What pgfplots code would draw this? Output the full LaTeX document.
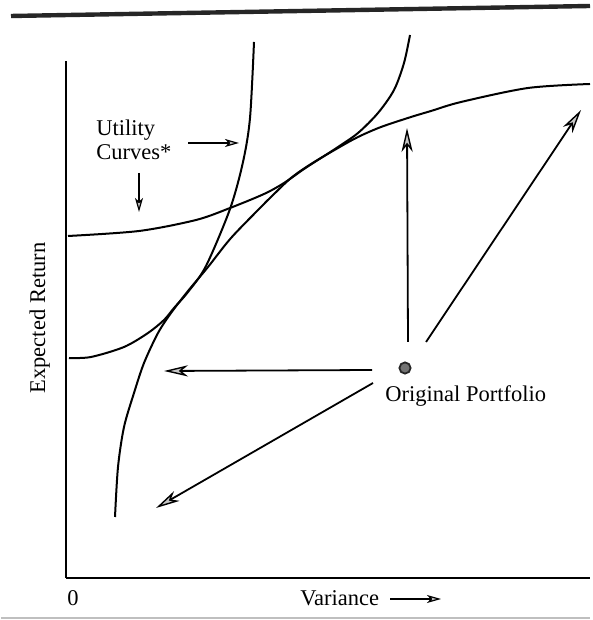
\documentclass[border=0pt]{standalone}
\usepackage{fontspec}
\setmainfont{Liberation Serif}
\usepackage{pgfplots}
\pgfplotsset{compat=1.18}
\usetikzlibrary{arrows.meta}

\begin{document}
\begin{tikzpicture}[font=\fontsize{11.25}{13.5}\selectfont,
  bigarr/.style={line width=0.9pt, -{Stealth[length=12pt,width=5.6pt,inset=3.5pt,fill=gray!45,line width=0.7pt]}},
  smallarr/.style={line width=0.9pt, -{Stealth[length=7pt,width=4pt,inset=1.8pt,fill=gray!45,line width=0.6pt]}}]
\begin{axis}[scale only axis, width=262pt, height=258.5pt,
  xmin=0, xmax=524, ymin=0, ymax=517,
  axis x line=bottom, axis y line=left,
  axis line style={-, line width=1.2pt},
  xtick=\empty, ytick=\empty, clip=false]

% bounding box of the whole page
\addplot[draw=none] coordinates {(-65,-42) (524,578)};

% scan rules at top and bottom
\addplot[line width=2.2pt, color=black!85] coordinates {(-55,562) (524,572)};
\addplot[line width=1pt, color=black!25] coordinates {(-65,-40) (524,-40)};

% efficient frontier (concave)
\addplot[line width=1pt, smooth, tension=0.5] coordinates {
(49,61) (52,111) (58,151) (68,185) (78,215) (92,245) (105,265) (122,287)
(142,311) (165,340) (195,371) (205,381) (225,400) (245,414) (272,430)
(292,441) (315,451) (345,461) (365,467) (395,476) (462,490) (524,494)};

% utility curve 1 (steep)
\addplot[line width=1pt, smooth, tension=0.5] coordinates {
(3,220) (25,221) (58,231) (82,245) (98,258) (108,270) (122,286) (140,312)
(164,369) (177,416) (184,460) (188,536)};

% utility curve 2
\addplot[line width=1pt, smooth, tension=0.5] coordinates {
(2,342) (73,347) (130,358) (164,370) (198,384) (218,395) (238,409) (255,420)
(272,431) (292,445) (312,465) (328,488) (338,515) (344,543)};

% annotation arrows
\addplot[smallarr] coordinates {(122,435) (173,435)};
\addplot[smallarr] coordinates {(73,405) (73,366)};
\addplot[bigarr] coordinates {(306,208) (98,207)};
\addplot[bigarr] coordinates {(307,195) (90,70)};
\addplot[bigarr] coordinates {(342,236) (341,450)};
\addplot[bigarr] coordinates {(360,236) (515,468)};
\addplot[smallarr] coordinates {(324,-21) (375,-21)};

% original portfolio
\addplot[only marks, mark=*, mark size=2.8pt, mark options={fill=black!55, draw=black!85, line width=0.9pt}] coordinates {(339,210)};

% texts
\node[anchor=base west, inner sep=0pt] at (30,442) {Utility};
\node[anchor=base west, inner sep=0pt] at (30,418) {Curves*};
\node[anchor=base west, inner sep=0pt] at (319,176) {Original Portfolio};
\node[anchor=base west, inner sep=0pt] at (234,-28) {Variance};
\node[anchor=base west, inner sep=0pt] at (1,-28) {0};
\node[anchor=base, rotate=90, inner sep=0pt] at (-21,260) {Expected Return};
\end{axis}
\end{tikzpicture}
\end{document}
